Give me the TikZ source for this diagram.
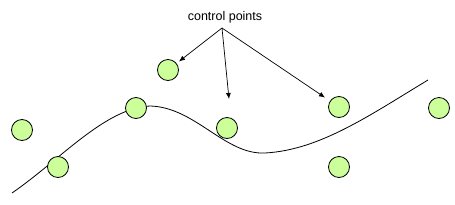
\documentclass[tikz,border=0pt]{standalone}
\usepackage{fontspec}
\setmainfont{Liberation Sans}
\usepackage{tikz}
\usetikzlibrary{arrows.meta}
\definecolor{cpgreen}{RGB}{204,255,153}

\begin{document}
\begin{tikzpicture}[x=1pt, y=-1pt, cp/.style = {draw, circle, fill=cpgreen, minimum size=21pt, inner sep=0pt, line width=0.8pt}]
            \useasboundingbox (0,0) rectangle (455,204);

            % the curve, behind the points
            \draw[line width=0.8pt] (12,193) .. controls (60,160) and (105,108) .. (150,106)
                .. controls (195,107) and (225,155) .. (265,153)
                .. controls (320,150) and (370,115) .. (428,80);

            \node[cp] (A) at (168,70) {};
            \node[cp] (B) at (22,130) {};
            \node[cp] (C) at (58,167) {};
            \node[cp] (D) at (136,108) {};
            \node[cp] (E) at (227,128) {};
            \node[cp] (F) at (339,107) {};
            \node[cp] (G) at (339,167) {};
            \node[cp] (H) at (439,108) {};

            \node (lbl) at (225,17) {\fontsize{12.5}{15}\selectfont control points};
            \coordinate (hub) at (222,28);
            \coordinate (tip) at (229,99);

            \draw[-{Latex[length=6pt,width=5pt]}, line width=0.7pt, shorten >=3pt] (hub) -- (A);
            \draw[-{Latex[length=6pt,width=5pt]}, line width=0.7pt] (hub) -- (tip);
            \draw[-{Latex[length=6pt,width=5pt]}, line width=0.7pt, shorten >=6pt] (hub) -- (F);
        \end{tikzpicture}
\end{document}
